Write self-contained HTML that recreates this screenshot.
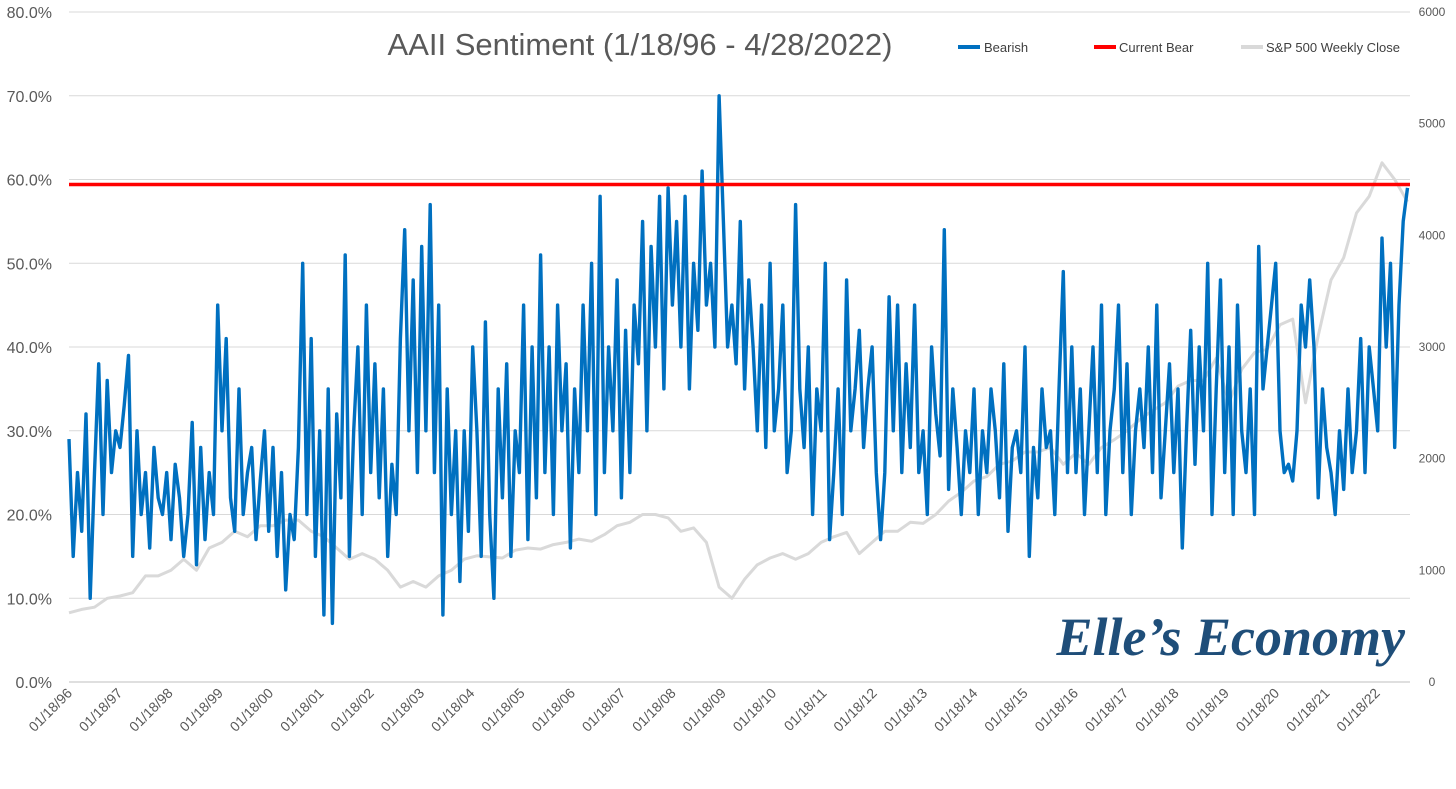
<!DOCTYPE html>
<html><head><meta charset="utf-8"><style>
html,body{margin:0;padding:0;background:#fff;}
svg{display:block;font-family:"Liberation Sans",sans-serif;}
</style></head><body>
<svg id="chart" width="1456" height="789" viewBox="0 0 1456 789" xmlns="http://www.w3.org/2000/svg">
<rect x="0" y="0" width="1456" height="789" fill="#fff"/>
<g id="grid"></g>
<g id="axes"></g>
<g id="series"></g>
<text x="640" y="55" text-anchor="middle" font-size="31" fill="#595959">AAII Sentiment (1/18/96 - 4/28/2022)</text>
<g font-size="13" fill="#404040">
<g><line x1="958" y1="47" x2="980" y2="47" stroke="#0070C0" stroke-width="4"/><text x="984" y="52">Bearish</text></g>
<g><line x1="1094" y1="47" x2="1116" y2="47" stroke="#FF0000" stroke-width="4"/><text x="1119" y="52">Current Bear</text></g>
<g><line x1="1241" y1="47" x2="1263" y2="47" stroke="#D9D9D9" stroke-width="4"/><text x="1266" y="52">S&amp;P 500 Weekly Close</text></g>
</g>
<text x="1405" y="655" text-anchor="end" font-size="54" font-weight="bold" font-style="italic" font-family="'Liberation Serif',serif" fill="#1F4E79">Elle’s Economy</text>
</svg>
<script>
const bearish=[29,15,25,18,32,10,25,38,20,36,25,30,
28,33,39,15,30,20,25,16,28,22,20,25,
17,26,22,15,20,31,14,28,17,25,20,45,
30,41,22,18,35,20,25,28,17,24,30,18,
28,15,25,11,20,17,28,50,20,41,15,30,
8,35,7,32,22,51,15,30,40,20,45,25,
38,22,35,15,26,20,41,54,30,48,25,52,
30,57,25,45,8,35,20,30,12,30,18,40,
30,15,43,20,10,35,22,38,15,30,25,45,
17,40,22,51,25,40,20,45,30,38,16,35,
25,45,30,50,20,58,25,40,30,48,22,42,
25,45,38,55,30,52,40,58,35,59,45,55,
40,58,35,50,42,61,45,50,40,70,55,40,
45,38,55,35,48,40,30,45,28,50,30,35,
45,25,30,57,35,28,40,20,35,30,50,17,
25,35,20,48,30,35,42,28,35,40,25,17,
25,46,30,45,25,38,28,45,25,30,20,40,
32,27,54,23,35,28,20,30,25,35,20,30,
25,35,30,22,38,18,28,30,25,40,15,28,
22,35,28,30,20,35,49,25,40,25,35,20,
30,40,25,45,20,30,35,45,25,38,20,30,
35,28,40,25,45,22,30,38,25,35,16,30,
42,26,40,30,50,20,35,48,25,40,20,45,
30,25,35,20,52,35,40,45,50,30,25,26,
24,30,45,40,48,40,22,35,28,25,20,30,
23,35,25,30,41,25,40,35,30,53,40,50,
28,45,55,59];
const sp500=[620,650,670,750,770,800,950,950,1000,1100,1000,1200,1250,1350,1300,1400,1400,1450,1450,1350,1300,1200,1100,1150,1100,1000,850,900,850,950,1000,1100,1130,1120,1110,1180,1200,1190,1230,1250,1280,1260,1320,1400,1430,1500,1500,1470,1350,1380,1250,850,750,920,1050,1110,1150,1100,1150,1250,1300,1340,1150,1250,1350,1350,1430,1420,1500,1620,1700,1800,1840,1950,1980,2060,2060,2100,1950,2050,1950,2100,2170,2250,2350,2430,2500,2650,2700,2700,2900,2500,2800,2950,2980,3200,3250,2500,3100,3600,3800,4200,4350,4650,4500,4300];
const currentBear=59.4;
const leftTicks=["0.0%","10.0%","20.0%","30.0%","40.0%","50.0%","60.0%","70.0%","80.0%"];
const rightTicks=[0,1000,2000,3000,4000,5000,6000];
const xLabels=["01/18/96","01/18/97","01/18/98","01/18/99","01/18/00","01/18/01","01/18/02","01/18/03","01/18/04","01/18/05","01/18/06","01/18/07","01/18/08","01/18/09","01/18/10","01/18/11","01/18/12","01/18/13","01/18/14","01/18/15","01/18/16","01/18/17","01/18/18","01/18/19","01/18/20","01/18/21","01/18/22"];
const X0=69,X1=1410,Y0=682,Y1=12,T0=1996.05,T1=2022.35;
const xS=t=>X0+(t-T0)/(T1-T0)*(X1-X0);
const yL=v=>Y0-v/80*(Y0-Y1);
const yR=v=>Y0-v/6000*(Y0-Y1);
const NS="http://www.w3.org/2000/svg";
function mk(tag,attrs,parent){const e=document.createElementNS(NS,tag);for(const k in attrs)e.setAttribute(k,attrs[k]);parent.appendChild(e);return e;}
const grid=document.getElementById('grid'),axes=document.getElementById('axes'),series=document.getElementById('series');
leftTicks.forEach((l,i)=>{const y=yL(i*10);
 const g=mk('line',{x1:X0,x2:X1,y1:y,y2:y,stroke:i==0?'#BFBFBF':'#D9D9D9','stroke-width':1},grid);
 
 const t=mk('text',{x:52,y:y+6,'text-anchor':'end','font-size':16,fill:'#595959'},axes);t.textContent=l;
 });
rightTicks.forEach(v=>{const t=mk('text',{x:1432,y:yR(v)+4,'text-anchor':'middle','font-size':12,fill:'#595959'},axes);t.textContent=v;
 });
xLabels.forEach((l,i)=>{const x=X0+i*50.3;
 const t=mk('text',{x:x+4,y:694,'text-anchor':'end','font-size':14,fill:'#595959',transform:`rotate(-45 ${x+4} 694)`},axes);t.textContent=l;
 });
const spPts=sp500.map((v,i)=>xS(1996.05+i*0.25).toFixed(1)+','+yR(v).toFixed(1)).join(' ');
const sp=mk('polyline',{points:spPts,fill:'none',stroke:'#D9D9D9','stroke-width':3,'stroke-linejoin':'round'},series);

const bPts=bearish.map((v,i)=>xS(1996.05+i/12).toFixed(1)+','+yL(v).toFixed(1)).join(' ');
const b=mk('polyline',{points:bPts,fill:'none',stroke:'#0070C0','stroke-width':3.4,'stroke-linejoin':'round'},series);

const r=mk('line',{x1:X0,x2:X1,y1:yL(currentBear),y2:yL(currentBear),stroke:'#FF0000','stroke-width':3.5},series);

</script>
</body></html>
